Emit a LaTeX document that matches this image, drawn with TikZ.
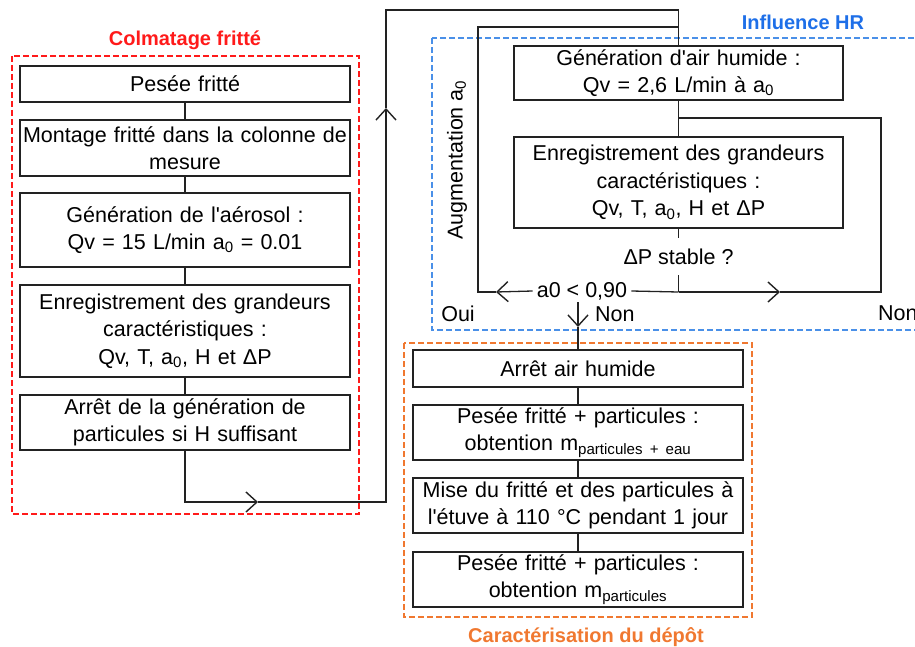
\documentclass[tikz,border=0pt]{standalone}
\usepackage{fontspec}
\setmainfont{Liberation Sans}[Ligatures=TeXOff]
\usetikzlibrary{arrows.meta}
\definecolor{cred}{HTML}{FF1A1A}
\definecolor{cblue}{HTML}{4A90E8}
\definecolor{cbluet}{HTML}{1E6FE8}
\definecolor{corange}{HTML}{F07830}
\definecolor{cline}{HTML}{222222}
\begin{document}
\begin{tikzpicture}[x=1pt,y=-1pt,
  box/.style={draw=cline, line width=1.3pt, minimum width=330pt, text width=326pt,
    inner sep=0pt, align=center, text=black, font=\fontsize{21.5}{27.5}\selectfont},
  lbl/.style={inner sep=0pt, text=black, font=\fontsize{21.5}{27.5}\selectfont},
  ttl/.style={inner sep=0pt, font=\fontsize{20}{24}\selectfont\bfseries},
  conn/.style={line width=1.3pt, draw=cline},
  barb/.style={-{Straight Barb[length=11pt,width=20pt,line width=1.4pt]}},
  frame/.style={line width=1.3pt, dash pattern=on 6pt off 3pt}
]
\useasboundingbox (0,0) rectangle (915,647);

% frames
\draw[frame, draw=cred] (12,56) rectangle (359,514);
\draw[frame, draw=cblue] (432,38) rectangle (930,330);
\draw[frame, draw=corange] (404,343) rectangle (752,617);

% titles
\node[ttl, text=cred] (t1) at (185,40) {Colmatage fritté};
\node[ttl, text=cbluet] (t2) at (803,22) {Influence HR};
\node[ttl, text=corange] (t3) at (586,637) {Caractérisation du dépôt};

% left column
\node[box, minimum height=36pt] (b1) at (185,84) {Pesée fritté};
\node[box, minimum height=56pt] (b2) at (185,148) {Montage fritté dans la colonne de\\mesure};
\node[box, minimum height=74pt] (b3) at (185,230) {Génération de l'aérosol :\\Qv = 15 L/min a\textsubscript{0} = 0.01};
\node[box, minimum height=92pt] (b4) at (185,331) {Enregistrement des grandeurs\\caractéristiques :\\Qv, T, a\textsubscript{0}, H et ΔP};
\node[box, minimum height=55pt] (b5) at (185,422.5) {Arrêt de la génération de\\particules si H suffisant};

% HR column
\node[box, minimum width=329pt, minimum height=54pt] (h1) at (678.5,73) {Génération d'air humide :\\Qv = 2,6 L/min à a\textsubscript{0}};
\node[box, minimum width=329pt, minimum height=91pt] (h2) at (678.5,182.5) {Enregistrement des grandeurs\\caractéristiques :\\Qv, T, a\textsubscript{0}, H et ΔP};
\node[lbl, minimum height=37pt] (dp) at (678.5,256.5) {ΔP stable ?};
\node[lbl, inner xsep=4pt] (a0) at (582,291) {a0 < 0,90};
\node[lbl, rotate=90] (aug) at (457,160) {Augmentation a\textsubscript{0}};
\node[lbl, anchor=center] (oui) at (458,314) {Oui};
\node[lbl, anchor=west] (non1) at (595,314) {Non};
\node[lbl, anchor=west] (non2) at (878,313) {Non};

% orange column
\node[box, minimum height=37pt] (o1) at (578,368.5) {Arrêt air humide};
\node[box, minimum height=55pt] (o2) at (578,432.5) {Pesée fritté + particules :\\obtention m\textsubscript{particules + eau}};
\node[box, minimum height=55pt] (o3) at (578,505.5) {Mise du fritté et des particules à\\l'étuve à 110 °C pendant 1 jour};
\node[box, minimum height=55pt] (o4) at (578,579.5) {Pesée fritté + particules :\\obtention m\textsubscript{particules}};

% coordinates
\coordinate (ba) at (258,502);
\coordinate (va) at (386,108);
\coordinate (tp) at (678.5,10);
\coordinate (j) at (678.5,292);
\coordinate (ra) at (780,292);
\coordinate (rc) at (881,292);
\coordinate (jm) at (678.5,118);
\coordinate (la) at (496,292);
\coordinate (lc) at (478,292);
\coordinate (tc) at (678.5,27);
\coordinate (ds) at (578,302);
\coordinate (da) at (578,327);

% left connectors
\draw[conn] (b1) -- (b2);
\draw[conn] (b2) -- (b3);
\draw[conn] (b3) -- (b4);
\draw[conn] (b4) -- (b5);
\draw[conn, barb] (b5.south) |- (ba);
\draw[conn, barb] (ba) -| (va);
\draw[conn] (va) |- (tp) -- (h1.north);

% HR connectors
\draw[conn] (h1) -- (h2);
\draw[conn] (h2.south) -- (dp.north);
\draw[conn] (dp.south) -- (j);
\draw[conn] (j) -- (a0.east);
\draw[conn, barb] (j) -- (ra);
\draw[conn] (ra) -- (rc) |- (jm);
\draw[conn, barb] (a0.west) -- (la);
\draw[conn] (la) -- (lc) |- (tc);

% to orange
\draw[conn, barb] (ds) -- (da);
\draw[conn] (da) -- (o1.north);
\draw[conn] (o1) -- (o2);
\draw[conn] (o2) -- (o3);
\draw[conn] (o3) -- (o4);
\end{tikzpicture}
\end{document}
